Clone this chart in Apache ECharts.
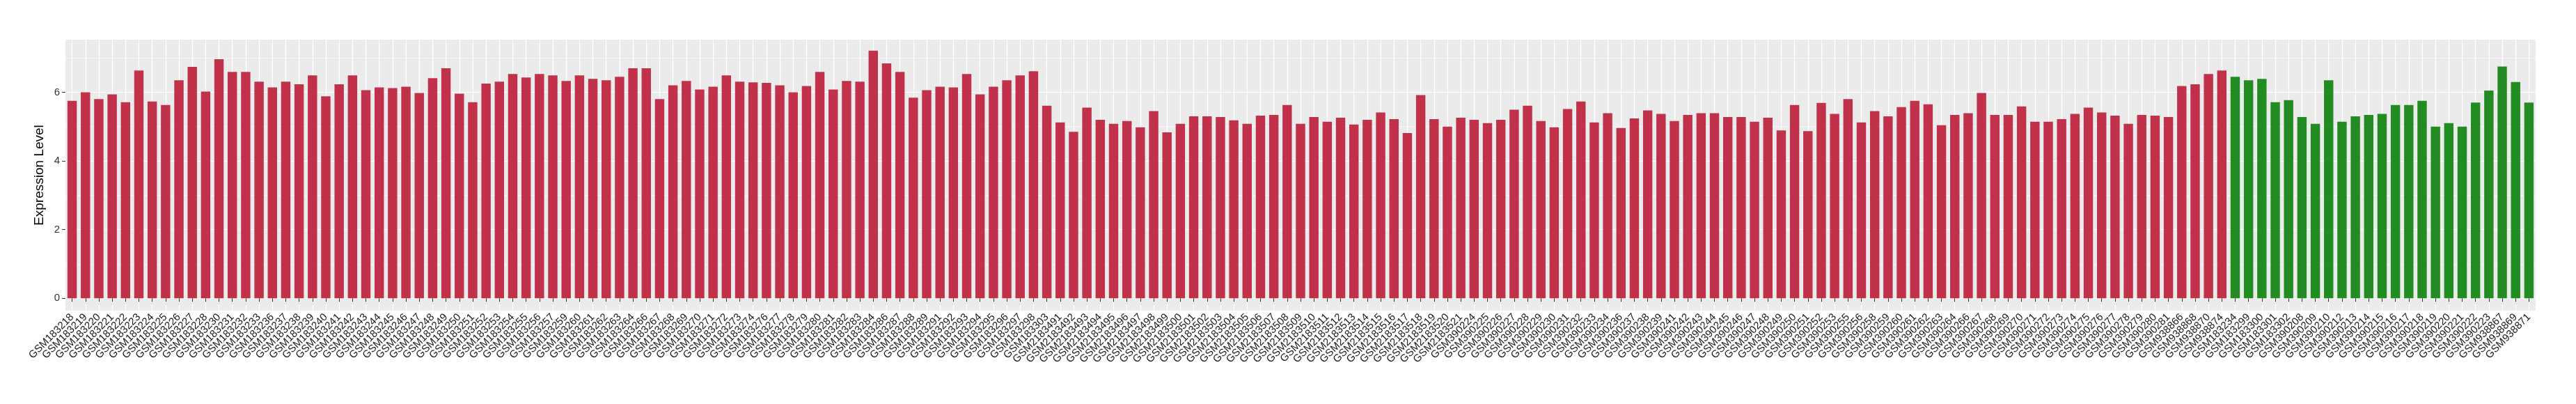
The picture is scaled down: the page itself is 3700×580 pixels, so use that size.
<!DOCTYPE html>
<html>
<head>
<meta charset="utf-8">
<script src="https://cdn.jsdelivr.net/npm/echarts@6/dist/echarts.min.js"></script>
<style>
html,body{margin:0;padding:0;background:#fff;}
#chart{width:3700px;height:580px;}
</style>
</head>
<body>
<div id="chart"></div>
<script>
const samples = [
"GSM183218","GSM183219","GSM183220","GSM183221","GSM183222","GSM183223","GSM183224","GSM183225","GSM183226","GSM183227",
"GSM183228","GSM183230","GSM183231","GSM183232","GSM183233","GSM183236","GSM183237","GSM183238","GSM183239","GSM183240",
"GSM183241","GSM183242","GSM183243","GSM183244","GSM183245","GSM183246","GSM183247","GSM183248","GSM183249","GSM183250",
"GSM183251","GSM183252","GSM183253","GSM183254","GSM183255","GSM183256","GSM183257","GSM183259","GSM183260","GSM183261",
"GSM183262","GSM183263","GSM183264","GSM183266","GSM183267","GSM183268","GSM183269","GSM183270","GSM183271","GSM183272",
"GSM183273","GSM183274","GSM183276","GSM183277","GSM183278","GSM183279","GSM183280","GSM183281","GSM183282","GSM183283",
"GSM183284","GSM183286","GSM183287","GSM183288","GSM183289","GSM183291","GSM183292","GSM183293","GSM183294","GSM183295",
"GSM183296","GSM183297","GSM183298","GSM183303",
"GSM2183491","GSM2183492","GSM2183493","GSM2183494","GSM2183495","GSM2183496","GSM2183497","GSM2183498","GSM2183499","GSM2183500",
"GSM2183501","GSM2183502","GSM2183503","GSM2183504","GSM2183505","GSM2183506","GSM2183507","GSM2183508","GSM2183509","GSM2183510",
"GSM2183511","GSM2183512","GSM2183513","GSM2183514","GSM2183515","GSM2183516","GSM2183517","GSM2183518","GSM2183519","GSM2183520",
"GSM2183521",
"GSM390224","GSM390225","GSM390226","GSM390227","GSM390228","GSM390229","GSM390230","GSM390231","GSM390232","GSM390233",
"GSM390234","GSM390236","GSM390237","GSM390238","GSM390239","GSM390241","GSM390242","GSM390243","GSM390244","GSM390245",
"GSM390246","GSM390247","GSM390248","GSM390249","GSM390250","GSM390251","GSM390252","GSM390253","GSM390255","GSM390256",
"GSM390258","GSM390259","GSM390260","GSM390261","GSM390262","GSM390263","GSM390264","GSM390266","GSM390267","GSM390268",
"GSM390269","GSM390270","GSM390271","GSM390272","GSM390273","GSM390274","GSM390275","GSM390276","GSM390277","GSM390278",
"GSM390279","GSM390280","GSM390281",
"GSM938866","GSM938868","GSM938870","GSM938874",
"GSM183234","GSM183299","GSM183300","GSM183301","GSM183302",
"GSM390208","GSM390209","GSM390210","GSM390212","GSM390213","GSM390214","GSM390215","GSM390216","GSM390217","GSM390218",
"GSM390219","GSM390220","GSM390221","GSM390222","GSM390223",
"GSM938867","GSM938869","GSM938871"
];

const expression = [
5.75, 6.00, 5.80, 5.94, 5.71, 6.63, 5.73, 5.63, 6.35, 6.74,
6.02, 6.96, 6.59, 6.59, 6.31, 6.14, 6.31, 6.23, 6.49, 5.88,
6.23, 6.49, 6.06, 6.14, 6.12, 6.16, 5.98, 6.41, 6.70, 5.96,
5.71, 6.25, 6.31, 6.53, 6.43, 6.53, 6.49, 6.33, 6.49, 6.39,
6.35, 6.45, 6.70, 6.70, 5.80, 6.20, 6.33, 6.08, 6.16, 6.49,
6.31, 6.29, 6.27, 6.20, 6.00, 6.18, 6.59, 6.08, 6.33,
6.31, 7.21, 6.84, 6.59, 5.84, 6.06, 6.16, 6.14, 6.53, 5.94,
6.16, 6.35, 6.49, 6.61, 5.61, 5.12, 4.85, 5.55, 5.20, 5.08,
5.16, 4.98, 5.45, 4.83, 5.08, 5.30, 5.30, 5.28, 5.18, 5.08,
5.32, 5.34, 5.63, 5.08, 5.28, 5.14, 5.26, 5.06, 5.20, 5.41,
5.22, 4.81, 5.92, 5.22, 5.00, 5.26, 5.20, 5.10, 5.20, 5.49,
5.61, 5.16, 4.98, 5.51, 5.73, 5.12, 5.39, 4.96, 5.24,
5.47, 5.37, 5.16, 5.34, 5.39, 5.39, 5.28, 5.28, 5.14, 5.26,
4.89, 5.63, 4.87, 5.69, 5.37, 5.80, 5.12, 5.45, 5.30, 5.57,
5.75, 5.65, 5.04, 5.34, 5.39, 5.98, 5.34, 5.34, 5.59, 5.14,
5.14, 5.22, 5.37, 5.55, 5.41, 5.32, 5.08, 5.34, 5.32, 5.28,
6.18, 6.23, 6.53, 6.63, 6.45, 6.35, 6.39, 5.71, 5.77, 5.28,
5.08, 6.35, 5.14, 5.30, 5.34, 5.37, 5.63, 5.63, 5.75, 5.00,
5.10, 5.00, 5.70, 6.05, 6.75, 6.30, 5.70
];

// number of samples in each group, in order
const groupSizes = [162, 23];
const groupColors = ['#C1314A', '#228B22'];

const yTickValues = [0, 2, 4, 6];
const yMinorValues = [1, 3, 5, 7];
const yAxisTitle = 'Expression Level';

function groupIndex(i) {
  let acc = 0;
  for (let g = 0; g < groupSizes.length; g++) {
    acc += groupSizes[g];
    if (i < acc) return g;
  }
  return groupSizes.length - 1;
}

const barData = expression.map((v, i) => ({
  value: v,
  itemStyle: { color: groupColors[groupIndex(i)] }
}));

const chart = echarts.init(document.getElementById('chart'), null, { renderer: 'canvas' });
const FONT = 'Liberation Sans, Arial, Helvetica, sans-serif';

chart.setOption({
  animation: false,
  backgroundColor: '#FFFFFF',
  grid: {
    left: 94, right: 58, top: 57, bottom: 134,
    show: true, backgroundColor: '#EBEBEB', borderWidth: 0,
    containLabel: false
  },
  xAxis: [{
    type: 'category',
    data: samples,
    boundaryGap: true,
    axisLine: { show: false },
    axisTick: { show: true, alignWithLabel: true, interval: 0, length: 5, lineStyle: { color: '#333333', width: 1 } },
    axisLabel: { interval: 0, rotate: 45, margin: 7, color: '#1A1A1A', fontSize: 15, fontFamily: FONT },
    splitLine: { show: true, alignWithLabel: true, interval: 0, lineStyle: { color: '#FFFFFF', width: 1.2 } }
  }],
  yAxis: [{
    type: 'value',
    min: -0.36,
    max: 7.53,
    name: yAxisTitle,
    nameLocation: 'middle',
    nameGap: 19,
    nameRotate: 90,
    nameTextStyle: { color: '#000000', fontSize: 19, fontFamily: FONT },
    axisLine: { show: false },
    axisTick: { show: true, length: 5, customValues: yTickValues, lineStyle: { color: '#333333', width: 1 } },
    axisLabel: { show: true, margin: 8, customValues: yTickValues, color: '#333333', fontSize: 15, fontFamily: FONT },
    splitLine: { show: true, lineStyle: { color: '#FFFFFF', width: 1.2 } },
    minorTick: { show: false, splitNumber: 2 },
    minorSplitLine: { show: false }
  }, {
    type: 'value',
    min: -0.36,
    max: 7.53,
    show: true,
    axisLine: { show: false },
    axisTick: { show: false, customValues: yMinorValues },
    axisLabel: { show: false, customValues: yMinorValues },
    splitLine: { show: true, lineStyle: { color: '#FFFFFF', width: 0.6 } }
  }],
  series: [{
    type: 'bar',
    data: barData,
    barWidth: '70%',
    xAxisIndex: 0,
    yAxisIndex: 0,
    silent: true
  }]
});
</script>
</body>
</html>
